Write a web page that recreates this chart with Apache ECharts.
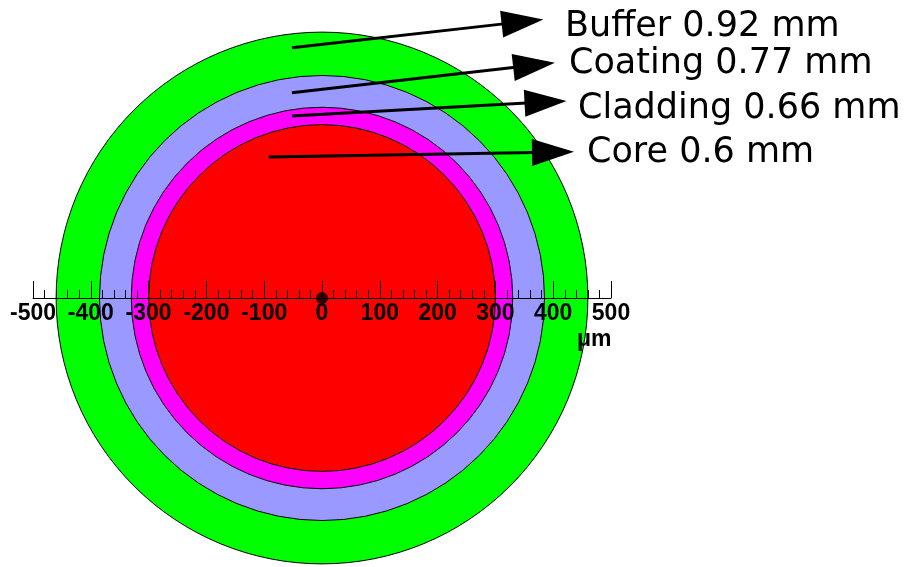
<!DOCTYPE html>
<html>
<head>
<meta charset="utf-8">
<script src="https://cdn.jsdelivr.net/npm/echarts@6/dist/echarts.min.js"></script>
<style>html,body{margin:0;padding:0;background:#fff}#c{width:908px;height:567px}</style>
</head>
<body>
<div id="c"></div>
<script>
// Layer names and outer diameters (mm)
var layerNames = ['Buffer', 'Coating', 'Cladding', 'Core'];
var layerDiameters = [0.92, 0.77, 0.66, 0.6];
// Arrow start and tip points (µm)
var arrowStarts = [[-52, 433], [-52, 355], [-52, 315], [-92, 244]];
var arrowTips = [[383, 482], [403, 407], [423, 341], [436, 253]];
// Axis range / ticks (µm)
var axisMin = -500, axisMax = 500, axisStep = 100;
var axisUnit = 'μm';
var centerPoint = [[0, 0]];

var layerColors = ['#00ff00', '#9999ff', '#ff00ff', '#ff0000'];
var labelPos = [[565, 37], [569, 74], [578, 119], [587, 163]];

var circleData = layerDiameters.map(function (d, i) {
  return { value: [0, 0, d * 1000 / 2], itemStyle: { color: layerColors[i] } };
});
var arrowData = arrowStarts.map(function (s, i) {
  return [s[0], s[1], arrowTips[i][0], arrowTips[i][1]];
});

var graphics = layerNames.map(function (n, i) {
  return {
    type: 'text', left: labelPos[i][0], top: labelPos[i][1] - 28, z: 20,
    style: { text: n + ' ' + layerDiameters[i] + ' mm', fill: '#000',
      font: '35px "DejaVu Sans"' }
  };
});
graphics.push({
  type: 'text', left: 577, top: 328, z: 20,
  style: { text: axisUnit, fill: '#000', font: 'bold 23px "Liberation Sans", Arial' }
});

var chart = echarts.init(document.getElementById('c'), null, { renderer: 'canvas' });
chart.setOption({
  animation: false,
  backgroundColor: '#ffffff',
  grid: { left: 33, top: 9, width: 578, height: 289, containLabel: false, outerBoundsMode: 'none' },
  xAxis: {
    type: 'value', min: axisMin, max: axisMax, interval: axisStep, z: 10,
    axisLine: { onZero: false, lineStyle: { color: '#000', width: 1 } },
    axisTick: { show: true, inside: true, length: 17, lineStyle: { color: '#000', width: 1 } },
    minorTick: { show: true, splitNumber: 5, length: 8, lineStyle: { color: '#000', width: 1 } },
    splitLine: { show: false },
    axisLabel: { margin: 4, color: '#000', fontFamily: '"Liberation Sans", Arial', fontWeight: 'bold', fontSize: 23 }
  },
  yAxis: { type: 'value', min: 0, max: axisMax, show: false, splitLine: { show: false } },
  series: [
    {
      type: 'custom', name: 'layers', clip: false, z: 2,
      data: circleData,
      renderItem: function (params, api) {
        var c = api.coord([api.value(0), api.value(1)]);
        var r = api.size([api.value(2), 0])[0];
        return { type: 'circle', shape: { cx: c[0], cy: c[1], r: r },
          style: { fill: api.visual('color'), stroke: '#000', lineWidth: 1 } };
      }
    },
    {
      type: 'scatter', z: 5, data: centerPoint, symbolSize: 12, clip: false,
      itemStyle: { color: '#000' }
    },
    {
      type: 'custom', name: 'arrows', clip: false, z: 6,
      data: arrowData,
      renderItem: function (params, api) {
        var p1 = api.coord([api.value(0), api.value(1)]);
        var p2 = api.coord([api.value(2), api.value(3)]);
        var dx = p2[0] - p1[0], dy = p2[1] - p1[1];
        var L = Math.sqrt(dx * dx + dy * dy);
        var ux = dx / L, uy = dy / L, nx = -uy, ny = ux;
        var headLen = 42, headHalf = 13.5;
        var bx = p2[0] - ux * headLen, by = p2[1] - uy * headLen;
        return {
          type: 'group',
          children: [
            { type: 'line', shape: { x1: p1[0], y1: p1[1], x2: bx + ux * 2, y2: by + uy * 2 },
              style: { stroke: '#000', lineWidth: 3 } },
            { type: 'polygon', shape: { points: [[p2[0], p2[1]], [bx + nx * headHalf, by + ny * headHalf], [bx - nx * headHalf, by - ny * headHalf]] },
              style: { fill: '#000' } }
          ]
        };
      }
    }
  ],
  graphic: graphics
});
</script>
</body>
</html>
